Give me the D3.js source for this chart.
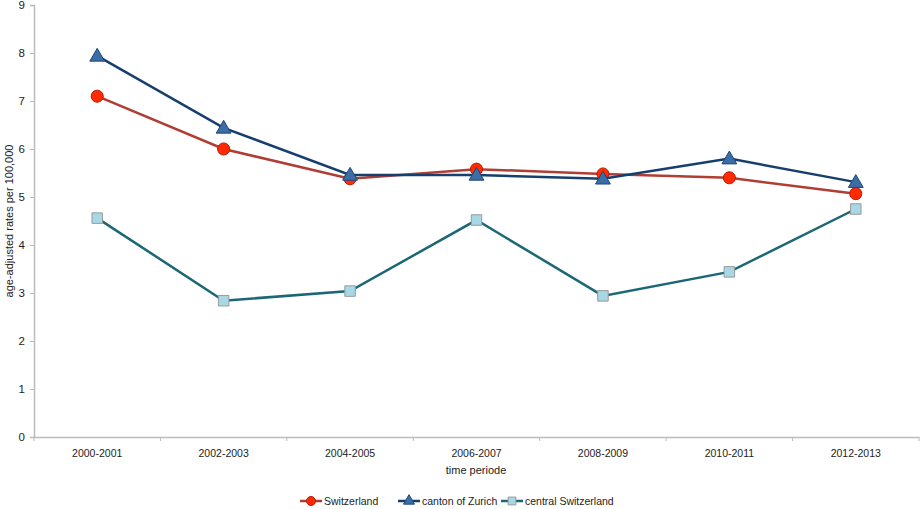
<!DOCTYPE html>
<html>
<head>
<meta charset="utf-8">
<script src="https://cdn.jsdelivr.net/npm/d3@7"></script>
<style>
body{margin:0;background:#fff;}
text{font-family:"Liberation Sans",Arial,sans-serif;fill:#222;}
</style>
</head>
<body>
<div id="chart"></div>
<script>
var periods=["2000-2001","2002-2003","2004-2005","2006-2007","2008-2009","2010-2011","2012-2013"];
var switzerland=[7.10,6.00,5.38,5.58,5.48,5.40,5.07];
var zurich=[7.94,6.44,5.46,5.46,5.38,5.80,5.31];
var central=[4.56,2.84,3.04,4.52,2.94,3.44,4.75];
var yTicks=[0,1,2,3,4,5,6,7,8,9];

var width=920, height=509;
var mLeft=34, mRight=919, mTop=5, mBottom=437;

var svg=d3.select("#chart").append("svg").attr("width",width).attr("height",height);

var x=d3.scaleBand().domain(periods).range([mLeft,mRight]);
var y=d3.scaleLinear().domain([0,9]).range([mBottom,mTop]);

// y axis
var yAxis=svg.append("g").attr("transform","translate("+mLeft+",0)")
  .call(d3.axisLeft(y).tickValues(yTicks).tickSize(4).tickFormat(d3.format("d")));
yAxis.select(".domain").attr("stroke","#bbb").attr("stroke-width",1.5);
yAxis.selectAll(".tick line").attr("stroke","#bbb");
yAxis.selectAll(".tick text").attr("font-size",11.5).attr("x",-9).style("font-family","Liberation Sans,Arial,sans-serif").attr("fill","#222");

// x axis
var xAxis=svg.append("g").attr("transform","translate(0,"+mBottom+")")
  .call(d3.axisBottom(x).tickSize(0).tickPadding(13));
xAxis.select(".domain").attr("stroke","#bbb").attr("stroke-width",1.5);
xAxis.selectAll(".tick text").attr("font-size",10.5).style("font-family","Liberation Sans,Arial,sans-serif").attr("fill","#222");
// ticks between categories
svg.append("g").selectAll("line").data(periods).enter().append("line")
  .attr("x1",function(d){return x(d);}).attr("x2",function(d){return x(d);})
  .attr("y1",mBottom).attr("y2",mBottom+4).attr("stroke","#bbb");
svg.append("line").attr("x1",mRight).attr("x2",mRight).attr("y1",mBottom).attr("y2",mBottom+4).attr("stroke","#bbb");

svg.append("text").attr("x",476).attr("y",474).attr("text-anchor","middle").attr("font-size",11).text("time periode");
svg.append("text").attr("transform","translate(13,221) rotate(-90)").attr("text-anchor","middle").attr("font-size",11).text("age-adjusted rates per 100,000");

var cx=function(i){return x(periods[i])+x.bandwidth()/2;};
var line=d3.line().x(function(d,i){return cx(i);}).y(function(d){return y(d);});

var series=[
  {name:"Switzerland",values:switzerland,line:"#b13e35",fill:"#ff2a00",stroke:"#b01e10",shape:d3.symbolCircle,size:115},
  {name:"canton of Zurich",values:zurich,line:"#173f6e",fill:"#3b6ea6",stroke:"#1f4777",shape:d3.symbolTriangle,size:95},
  {name:"central Switzerland",values:central,line:"#1c6775",fill:"#a7d8e6",stroke:"#999",shape:d3.symbolSquare,size:110}
];

// lines then markers, central first so it sits underneath
[series[2],series[0],series[1]].forEach(function(s){
  svg.append("path").datum(s.values).attr("d",line).attr("fill","none").attr("stroke",s.line).attr("stroke-width",2.5);
  svg.append("g").selectAll("path").data(s.values).enter().append("path")
    .attr("d",d3.symbol().type(s.shape).size(s.size))
    .attr("transform",function(d,i){return "translate("+cx(i)+","+(y(d)+(s.shape===d3.symbolTriangle?1:0))+")";})
    .attr("fill",s.fill).attr("stroke",s.stroke).attr("stroke-width",1);
});

// legend
var legX=[300,398,501];
series.forEach(function(s,i){
  var g=svg.append("g").attr("transform","translate("+legX[i]+",501)");
  g.append("line").attr("x1",0).attr("x2",22).attr("y1",0).attr("y2",0).attr("stroke",s.line).attr("stroke-width",2.5);
  g.append("path").attr("d",d3.symbol().type(s.shape).size(s.size*0.55)).attr("transform","translate(11,0)")
    .attr("fill",s.fill).attr("stroke",s.stroke).attr("stroke-width",1);
  g.append("text").attr("x",24).attr("y",4).attr("font-size",10.5).text(s.name);
});
</script>
</body>
</html>
